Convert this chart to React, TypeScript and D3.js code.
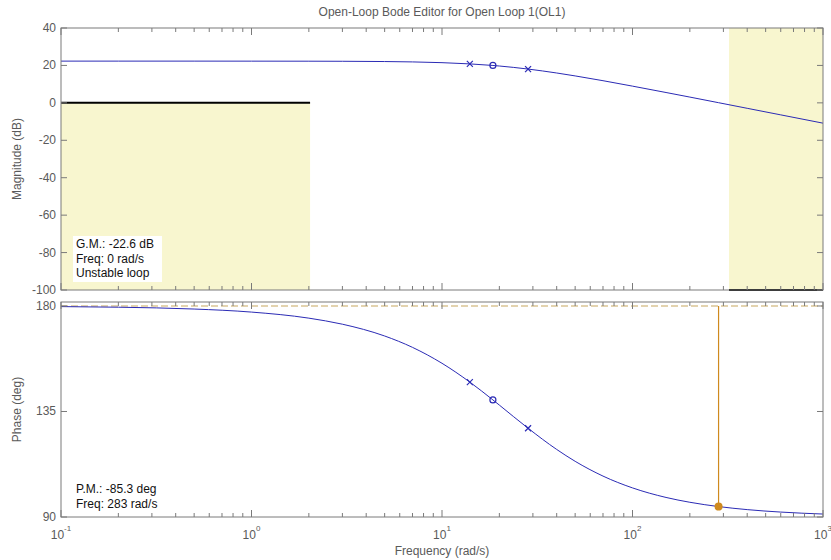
import React from "react";
import * as d3 from "d3";

const freq = [0.1, 0.2, 0.5, 1, 2, 3, 5, 7, 10, 14, 18.5, 20, 28.3, 40, 50, 70, 100, 150, 200, 283, 400, 600, 1000];
const magDb = [22.3, 22.3, 22.3, 22.29, 22.26, 22.22, 22.08, 21.88, 21.48, 20.82, 19.98, 19.69, 18.06, 15.96, 14.4, 11.84, 8.94, 5.53, 3.08, 0.09, -2.91, -6.42, -10.85];
const phaseDeg = [179.74, 179.48, 178.7, 177.4, 174.81, 172.23, 167.2, 162.35, 155.56, 147.53, 139.94, 137.73, 127.86, 118.81, 113.75, 107.45, 102.41, 98.34, 96.28, 94.45, 93.15, 92.1, 91.26];

const poleFreqs = [14.0, 28.3];
const poleMag = [20.82, 18.06];
const polePhase = [147.53, 127.86];
const zeroFreqs = [18.5];
const zeroMag = [19.98];
const zeroPhase = [139.94];

const magTicks = [40, 20, 0, -20, -40, -60, -80, -100];
const phaseTicks = [90, 135, 180];
const decades = [0.1, 1, 10, 100, 1000];
const decadeExp = ["-1", "0", "1", "2", "3"];

const lowerBoundFreq = [0.1, 2.03];
const lowerBoundDb = 0;
const upperRegionFreq = [321, 1000];
const upperRegionDb = -100;

const gmLines = ["G.M.: -22.6 dB", "Freq: 0 rad/s", "Unstable loop"];
const pmLines = ["P.M.: -85.3 deg", "Freq: 283 rad/s"];
const pmFreq = 283;
const pmPhase = 94.45;

const W = 831, H = 560;
const L = 61, R = 823;
const magTop = 28, magBot = 290;
const phTop = 302, phBot = 517;

const FONT = "'Liberation Sans', Arial, sans-serif";
const AXC = "#7a7a7a";
const TXC = "#5a5a5a";
const BLUE = "#2b2bb5";
const YEL = "#f8f6cf";
const GOLD = "#cf8a1e";

export default function App() {
  const x = d3.scaleLog().domain([0.1, 1000]).range([L, R]);
  const yMag = d3.scaleLinear().domain([-100, 40]).range([magBot, magTop]);
  const yPh = d3.scaleLinear().domain([90, 181.7]).range([phBot, phTop]);

  const magLine = d3.line<number>().x((_, i) => x(freq[i])).y((d) => yMag(d)).curve(d3.curveMonotoneX);
  const phLine = d3.line<number>().x((_, i) => x(freq[i])).y((d) => yPh(d)).curve(d3.curveMonotoneX);

  const minor: number[] = [];
  for (let d = 0; d < 4; d++) for (let k = 2; k <= 9; k++) minor.push(decades[d] * k);

  const xTicks = (top: number, bot: number) => (
    <g stroke={AXC} strokeWidth={1}>
      {minor.map((f, i) => (
        <g key={"m" + i}>
          <line x1={x(f)} x2={x(f)} y1={top} y2={top + 4} />
          <line x1={x(f)} x2={x(f)} y1={bot} y2={bot - 4} />
        </g>
      ))}
      {decades.map((f, i) => (
        <g key={"d" + i}>
          <line x1={x(f)} x2={x(f)} y1={top} y2={top + 7} />
          <line x1={x(f)} x2={x(f)} y1={bot} y2={bot - 7} />
        </g>
      ))}
    </g>
  );

  const cross = (cx: number, cy: number, k: string) => (
    <g key={k} stroke={BLUE} strokeWidth={1.2}>
      <line x1={cx - 3} x2={cx + 3} y1={cy - 3} y2={cy + 3} />
      <line x1={cx - 3} x2={cx + 3} y1={cy + 3} y2={cy - 3} />
    </g>
  );

  return (
    <svg width={W} height={H} style={{ position: "absolute", left: 0, top: 0, background: "#fff" }} fontFamily={FONT}>
      <defs>
        <clipPath id="cm"><rect x={L} y={magTop} width={R - L} height={magBot - magTop} /></clipPath>
        <clipPath id="cp"><rect x={L} y={phTop} width={R - L} height={phBot - phTop} /></clipPath>
      </defs>
      <rect x={0} y={0} width={W} height={H} fill="#fff" />
      <text x={(L + R) / 2} y={16} textAnchor="middle" fontSize={12} fill={TXC}>Open-Loop Bode Editor for Open Loop 1(OL1)</text>

      {/* Magnitude plot */}
      <g clipPath="url(#cm)">
        <rect x={x(lowerBoundFreq[0])} y={yMag(lowerBoundDb)} width={x(lowerBoundFreq[1]) - x(lowerBoundFreq[0])} height={yMag(-100) - yMag(lowerBoundDb)} fill={YEL} />
        <rect x={x(upperRegionFreq[0])} y={yMag(40)} width={x(upperRegionFreq[1]) - x(upperRegionFreq[0])} height={yMag(upperRegionDb) - yMag(40)} fill={YEL} />
        <line x1={x(lowerBoundFreq[0])} x2={x(lowerBoundFreq[1])} y1={yMag(lowerBoundDb)} y2={yMag(lowerBoundDb)} stroke="#000" strokeWidth={2} />
        <path d={magLine(magDb) || ""} fill="none" stroke={BLUE} strokeWidth={1} />
        {poleFreqs.map((f, i) => cross(x(f), yMag(poleMag[i]), "pm" + i))}
        {zeroFreqs.map((f, i) => (
          <circle key={"zm" + i} cx={x(f)} cy={yMag(zeroMag[i])} r={3} fill="none" stroke={BLUE} strokeWidth={1.2} />
        ))}
      </g>
      <line x1={x(upperRegionFreq[0])} x2={x(upperRegionFreq[1])} y1={yMag(upperRegionDb)} y2={yMag(upperRegionDb)} stroke="#000" strokeWidth={2} />
      <rect x={L} y={magTop} width={R - L} height={magBot - magTop} fill="none" stroke={AXC} strokeWidth={1} />
      {xTicks(magTop, magBot)}
      <g stroke={AXC}>
        {magTicks.map((t) => (
          <g key={t}>
            <line x1={L} x2={L + 6} y1={yMag(t)} y2={yMag(t)} />
            <line x1={R} x2={R - 6} y1={yMag(t)} y2={yMag(t)} />
          </g>
        ))}
      </g>
      {magTicks.map((t) => (
        <text key={"l" + t} x={L - 5} y={yMag(t) + 4} textAnchor="end" fontSize={12} fill={TXC}>{t}</text>
      ))}
      <text transform={`translate(21,${(magTop + magBot) / 2}) rotate(-90)`} textAnchor="middle" fontSize={12} fill={TXC}>Magnitude (dB)</text>
      <rect x={73} y={236} width={89} height={46} fill="#fff" />
      {gmLines.map((s, i) => (
        <text key={s} x={76} y={248 + i * 14.5} fontSize={12} fill="#111">{s}</text>
      ))}

      {/* Phase plot */}
      <g clipPath="url(#cp)">
        <line x1={L} x2={R} y1={yPh(180)} y2={yPh(180)} stroke="#c8a860" strokeWidth={1.2} strokeDasharray="7,3" />
        <line x1={x(pmFreq)} x2={x(pmFreq)} y1={yPh(180)} y2={yPh(pmPhase)} stroke={GOLD} strokeWidth={1.2} />
        <path d={phLine(phaseDeg) || ""} fill="none" stroke={BLUE} strokeWidth={1} />
        {poleFreqs.map((f, i) => cross(x(f), yPh(polePhase[i]), "pp" + i))}
        {zeroFreqs.map((f, i) => (
          <circle key={"zp" + i} cx={x(f)} cy={yPh(zeroPhase[i])} r={3} fill="none" stroke={BLUE} strokeWidth={1.2} />
        ))}
        <circle cx={x(pmFreq)} cy={yPh(pmPhase)} r={4} fill={GOLD} />
      </g>
      <rect x={L} y={phTop} width={R - L} height={phBot - phTop} fill="none" stroke={AXC} strokeWidth={1} />
      {xTicks(phTop, phBot)}
      <g stroke={AXC}>
        {phaseTicks.map((t) => (
          <g key={t}>
            <line x1={L} x2={L + 6} y1={yPh(t)} y2={yPh(t)} />
            <line x1={R} x2={R - 6} y1={yPh(t)} y2={yPh(t)} />
          </g>
        ))}
      </g>
      {phaseTicks.map((t) => (
        <text key={"p" + t} x={L - 5} y={yPh(t) + 4} textAnchor="end" fontSize={12} fill={TXC}>{t}</text>
      ))}
      <text transform={`translate(21,${(phTop + phBot) / 2}) rotate(-90)`} textAnchor="middle" fontSize={12} fill={TXC}>Phase (deg)</text>
      <rect x={73} y={482} width={91} height={29} fill="#fff" />
      {pmLines.map((s, i) => (
        <text key={s} x={76} y={493 + i * 14.5} fontSize={12} fill="#111">{s}</text>
      ))}

      {/* x tick labels */}
      {decades.map((f, i) => (
        <text key={"x" + i} x={x(f)} y={539} textAnchor="middle" fontSize={12} fill={TXC}>
          10<tspan dy={-8} fontSize={8}>{decadeExp[i]}</tspan>
        </text>
      ))}
      <text x={(L + R) / 2} y={555} textAnchor="middle" fontSize={12} fill={TXC}>Frequency (rad/s)</text>
    </svg>
  );
}
